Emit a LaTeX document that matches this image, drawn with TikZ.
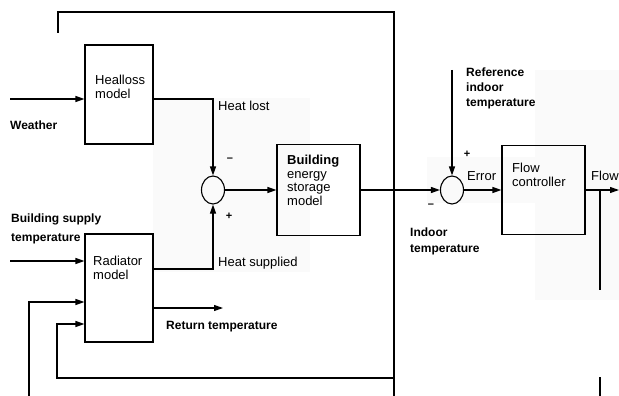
\documentclass[tikz,border=0pt]{standalone}
\usepackage{fontspec}
\setmainfont{Liberation Sans}
\usetikzlibrary{arrows.meta,positioning,shapes.geometric}

\begin{document}
\begin{tikzpicture}[
  x=1pt, y=-1pt,
  blockbox/.style={draw, line width=1.1pt, minimum width=68pt, inner sep=0pt},
  sumnode/.style={draw, ellipse, line width=1.1pt, minimum width=23pt, minimum height=28pt, inner sep=0pt},
  sig/.style={-{Triangle[length=9pt,width=6pt]}, line width=1.1pt},
  wire/.style={line width=1.1pt},
  lbl/.style={font=\fontsize{12}{15}\selectfont\bfseries, align=left, inner sep=0pt, anchor=north west},
  txt/.style={font=\fontsize{13}{14}\selectfont, align=left, inner sep=0pt, anchor=north west},
  sgn/.style={font=\fontsize{11}{11}\selectfont\bfseries, inner sep=0pt}
]
\useasboundingbox (0,0) rectangle (619,396);

% faint scan shading
\fill[black!2] (153,98) rectangle (310,272);
\fill[black!2] (427,157) rectangle (535,203);
\fill[black!2] (535,70) rectangle (619,300);

% blocks
\node[blockbox, minimum height=99pt] (lossbox) at (119,94.5) {};
\node[blockbox, minimum height=108pt] (radbox) at (119,288) {};
\node[blockbox, minimum width=83pt, minimum height=91pt] (bldbox) at (318.5,190) {};
\node[blockbox, minimum width=83pt, minimum height=89pt] (flowbox) at (543.5,190) {};
\node[sumnode] (sumheat) at (213,190) {};
\node[sumnode] (sumerr) at (452,190) {};

\node[txt] (losstxt) at (95,75) {Healloss\\model};
\node[txt] (radtxt) at (93,256) {Radiator\\model};
\node[txt, font=\fontsize{13}{13.5}\selectfont] (bldtxt) at (287,155) {{\bfseries Building}\\energy\\storage\\model};
\node[txt] (flowtxt) at (512,163) {Flow\\controller};

% free ends
\coordinate (weather) at (10,99);
\coordinate (supply) at (10,261);
\coordinate (heatsup) at (153,269);
\coordinate (retout) at (223,308);
\coordinate (refin) at (452,70);
\coordinate (flowout) at (619,190);
\coordinate (tap) at (600,190);
\coordinate (tapend) at (600,290);
\coordinate (fbtop) at (600,377);
\coordinate (fbbot) at (600,396);
\coordinate (loopa) at (58,33);
\coordinate (toprail) at (394,12);
\coordinate (loopb) at (394,396);
\coordinate (retrail) at (394,378);
\coordinate (lowturn) at (57,324);
\coordinate (leftin) at (29,396);
\coordinate (leftturn) at (29,302);

% signals
\draw[sig] (weather) -- (weather -| lossbox.west);
\draw[sig] (weather -| lossbox.east) -| (sumheat.north);
\draw[sig] (radbox.east |- heatsup) -| (sumheat.south);
\draw[sig] (sumheat) -- (bldbox);
\draw[sig] (bldbox) -- (sumerr);
\draw[sig] (refin) -- (sumerr);
\draw[sig] (sumerr) -- (flowbox);
\draw[sig] (flowbox) -- (flowout);
\draw[wire] (tap) -- (tapend);
\draw[wire] (fbtop) -- (fbbot);
\draw[wire] (loopa) |- (toprail) -- (loopb);
\draw[sig] (retrail) -| (lowturn) -- (lowturn -| radbox.west);
\draw[sig] (leftin) -- (leftturn) -- (leftturn -| radbox.west);
\draw[sig] (supply) -- (supply -| radbox.west);
\draw[sig] (retout -| radbox.east) -- (retout);

% labels
\node[lbl] (weatherlbl) at (10,121) {Weather};
\node[txt] (lostlbl) at (218,101) {Heat lost};
\node[txt] (suplbl) at (218,257) {Heat supplied};
\node[lbl, font=\fontsize{12}{19}\selectfont\bfseries] (supplylbl) at (11,214) {Building supply\\temperature};
\node[lbl] (retlbl) at (166,321) {Return temperature};
\node[lbl] (reflbl) at (466,68) {Reference\\indoor\\temperature};
\node[lbl, font=\fontsize{12}{16}\selectfont\bfseries] (indoorlbl) at (410,228) {Indoor\\temperature};
\node[txt] (errlbl) at (467,171) {Error};
\node[txt] (flowlbl) at (591,171) {Flow};
\node[sgn] (minusheat) at (230,160) {--};
\node[sgn] (plusheat) at (229,216) {+};
\node[sgn] (plusref) at (467,154) {+};
\node[sgn] (minuserr) at (431,206) {--};
\end{tikzpicture}
\end{document}
